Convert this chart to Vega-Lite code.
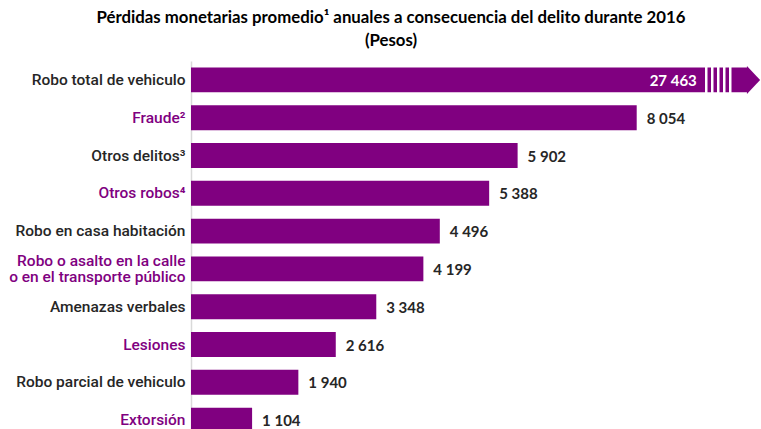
{
  "$schema": "https://vega.github.io/schema/vega-lite/v6.json",
  "autosize": {"type": "none"},
  "padding": {"left": 191, "top": 61, "right": 0, "bottom": 0},
  "width": 570,
  "height": 378,
  "background": "white",
  "config": {
    "view": {"stroke": null},
    "locale": {"number": {"decimal": ".", "thousands": " ", "grouping": [3], "currency": ["$", ""]}}
  },
  "title": {
    "text": ["Pérdidas monetarias promedio¹ anuales a consecuencia del delito durante 2016", "(Pesos)"],
    "font": "Lato",
    "fontSize": 16.8,
    "fontWeight": "bold",
    "color": "#000000",
    "anchor": "middle",
    "dx": -85,
    "offset": 11,
    "lineHeight": 23
  },
  "data": {
    "values": [
      {"delito": "Robo total de vehiculo", "valor": 27463},
      {"delito": "Fraude²", "valor": 8054},
      {"delito": "Otros delitos³", "valor": 5902},
      {"delito": "Otros robos⁴", "valor": 5388},
      {"delito": "Robo en casa habitación", "valor": 4496},
      {"delito": "Robo o asalto en la calle|o en el transporte público", "valor": 4199},
      {"delito": "Amenazas verbales", "valor": 3348},
      {"delito": "Lesiones", "valor": 2616},
      {"delito": "Robo parcial de vehiculo", "valor": 1940},
      {"delito": "Extorsión", "valor": 1104}
    ]
  },
  "encoding": {
    "y": {
      "field": "delito",
      "type": "nominal",
      "sort": ["Robo total de vehiculo", "Fraude²", "Otros delitos³", "Otros robos⁴", "Robo en casa habitación", "Robo o asalto en la calle|o en el transporte público", "Amenazas verbales", "Lesiones", "Robo parcial de vehiculo", "Extorsión"],
      "scale": {"paddingInner": 0.34, "paddingOuter": 0.17},
      "axis": {
        "title": null,
        "ticks": false,
        "domain": true,
        "domainColor": "#d9d9d9",
        "domainWidth": 1.5,
        "labelPadding": 6,
        "labelFont": "Roboto",
        "labelFontWeight": 500,
        "labelFontSize": 15.5,
        "labelLimit": 400,
        "labelLineHeight": 16.5,
        "labelExpr": "split(datum.label, '|')",
        "labelOffset": {
          "condition": {"test": "indexof(datum.value, '|') >= 0", "value": -8.25},
          "value": 0
        },
        "labelColor": {
          "condition": {
            "test": "indexof(['Fraude²','Otros robos⁴','Robo o asalto en la calle|o en el transporte público','Lesiones','Extorsión'], datum.value) >= 0",
            "value": "#800080"
          },
          "value": "#262626"
        }
      }
    }
  },
  "layer": [
    {
      "transform": [{"filter": "datum.valor < 10000"}],
      "mark": {"type": "bar", "color": "#800080"},
      "encoding": {
        "x": {"field": "valor", "type": "quantitative", "scale": {"domain": [0, 10300], "nice": false}, "axis": null}
      }
    },
    {
      "transform": [{"filter": "datum.valor >= 10000"}],
      "mark": {"type": "bar", "color": "#800080"},
      "encoding": {
        "x": {"datum": 10047, "type": "quantitative", "scale": {"domain": [0, 10300], "nice": false}}
      }
    },
    {
      "transform": [{"filter": "datum.valor >= 10000"}],
      "mark": {"type": "rule", "color": "white", "strokeWidth": 26, "strokeDash": [2.5, 3.5], "strokeCap": "butt"},
      "encoding": {
        "x": {"datum": 9288, "type": "quantitative", "scale": {"domain": [0, 10300], "nice": false}},
        "x2": {"datum": 9767}
      }
    },
    {
      "transform": [{"filter": "datum.valor >= 10000"}],
      "mark": {"type": "point", "filled": true, "color": "#800080", "opacity": 1, "shape": "M -0.47 -1 L 0.47 0 L -0.47 1 Z", "size": 784},
      "encoding": {
        "x": {"datum": 10165, "type": "quantitative", "scale": {"domain": [0, 10300], "nice": false}}
      }
    },
    {
      "transform": [{"filter": "datum.valor < 10000"}],
      "mark": {"type": "text", "align": "left", "baseline": "middle", "dx": 10, "dy": 1, "font": "Lato", "fontSize": 15, "fontWeight": "bold", "color": "#262626"},
      "encoding": {
        "x": {"field": "valor", "type": "quantitative", "scale": {"domain": [0, 10300], "nice": false}},
        "text": {"field": "valor", "type": "quantitative", "format": ",d"}
      }
    },
    {
      "transform": [{"filter": "datum.valor >= 10000"}],
      "mark": {"type": "text", "align": "right", "baseline": "middle", "dy": 1, "font": "Lato", "fontSize": 15, "fontWeight": "bold", "color": "white"},
      "encoding": {
        "x": {"datum": 9140, "type": "quantitative", "scale": {"domain": [0, 10300], "nice": false}},
        "text": {"field": "valor", "type": "quantitative", "format": ",d"}
      }
    }
  ]
}
